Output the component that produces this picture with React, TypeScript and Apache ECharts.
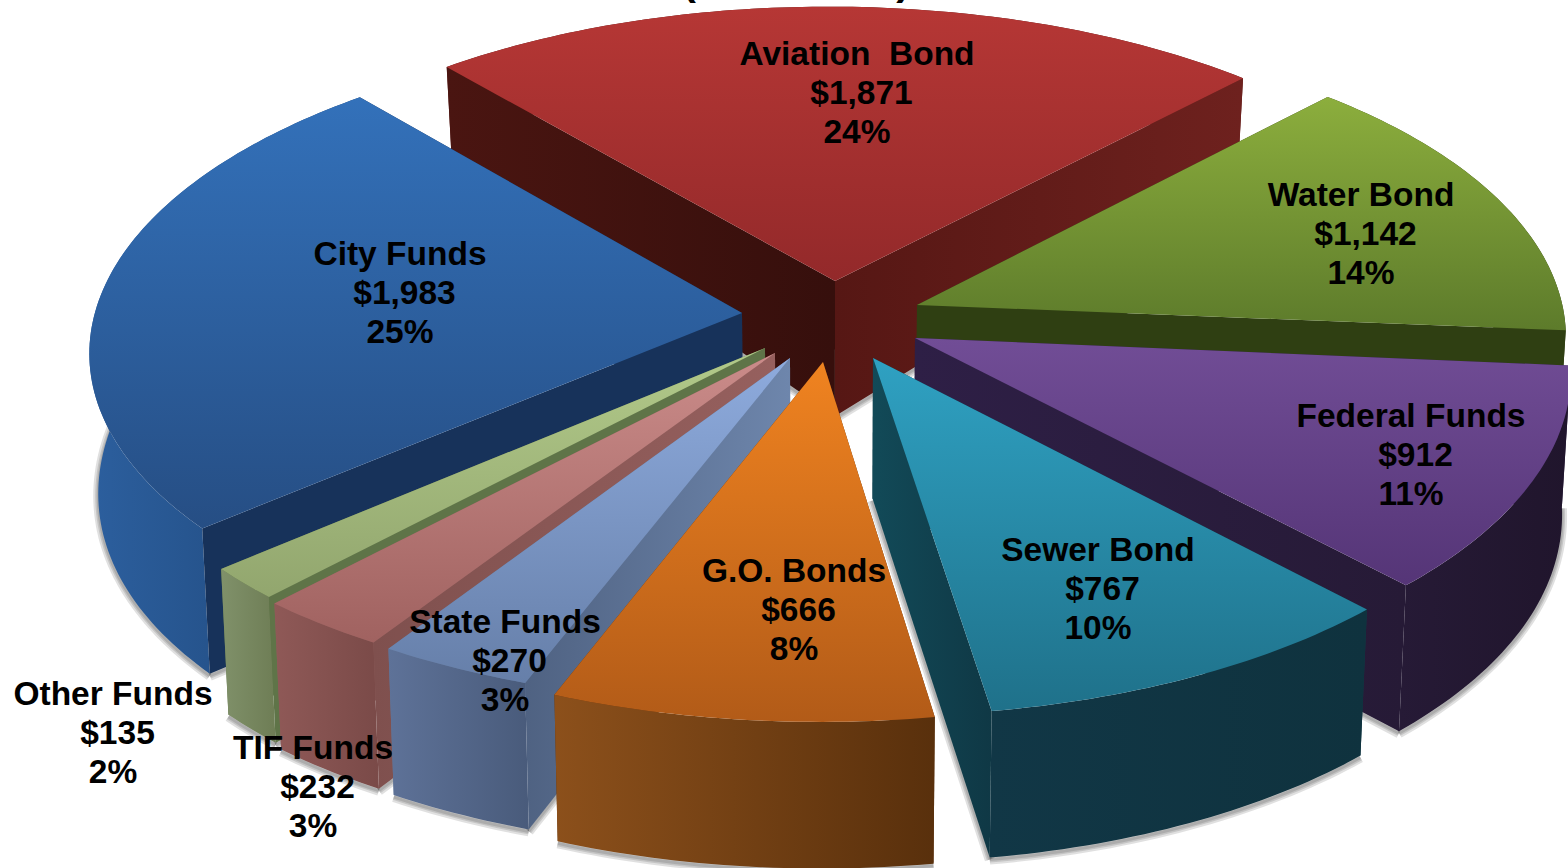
import React, { useEffect, useRef } from "react";
import * as echarts from "echarts";

// ---- data ----
const categories = ["Aviation  Bond", "Water Bond", "Federal Funds", "Sewer Bond", "G.O. Bonds", "State Funds", "TIF Funds", "Other Funds", "City Funds"];
const values = [1871, 1142, 912, 767, 666, 270, 232, 135, 1983];
const percentLabels = ["24%", "14%", "11%", "10%", "8%", "3%", "3%", "2%", "25%"];
const titleText = "(in Millions)";

// ---- projection / layout (not data) ----
const W = 1568, H = 868;
const CX = 830, CY = 330;
const START_ANGLE = -41;
const PERSPECTIVE = 0.11;
const explode = [[5, -49], [87, -25], [85, 8], [43, 28], [-7, 32], [-40, 28], [-55, 23], [-65, 18], [-88, -17]];
const radiusX = [641, 645, 652, 656, 661, 670, 670, 664, 647];
const radiusY = [304.5, 308, 316, 318.4, 320.3, 308, 304, 312.5, 309];
const shearX = [0, 0, 0, 0, 7, 0, 0, 0, 14];
const shearY = [3, -1.5, 0, 3, 2.5, -10, -14, -3, 0.6];
const drawOrder = [0, 1, 2, 8, 7, 6, 5, 3, 4];
const labelAnchor = [[857, 53], [1361, 194], [1411, 415], [1098, 549], [794, 570], [505, 621], [313, 747], [113, 693], [400, 253]];

// ---- colours ----
const topColors = [["#b63735", "#93292a"], ["#8cae3d", "#5d7b2b"], ["#714d96", "#553577"], ["#2fa1c2", "#1f718a"], ["#f08320", "#b25b18"], ["#8eabdd", "#667fa9"], ["#cb8c8a", "#a06260"], ["#b2ca8a", "#92a66e"], ["#3371ba", "#264e84"]];
const outerColors = [["#5a1815", "#5a1815"], ["#2f3f12", "#2f3f12"], ["#261a36", "#20152c"], ["#113746", "#0f323e"], ["#8c501b", "#59300c"], ["#5e7298", "#495b7b"], ["#8f5957", "#7a4a48"], ["#80916a", "#6e7d55"], ["#2c5f9e", "#1e4576"]];
const startWall = [["#4a1511", "#360f0c"], ["#2f3f12", "#2f3f12"], ["#2a1c40", "#2a1c40"], ["#0f3a45", "#0f3a45"], ["#5a2f0c", "#5a2f0c"], ["#4f6282", "#6e86ac"], ["#7f504e", "#96605e"], ["#5f7448", "#5f7448"], ["#17325a", "#17325a"]];
const endWall = [["#561714", "#6e211e"], ["#2f3f12", "#2f3f12"], ["#2e1f46", "#261a36"], ["#124a58", "#0f3845"], ["#5a2f0c", "#5a2f0c"], ["#627799", "#627799"], ["#8d5c5a", "#8d5c5a"], ["#5f7448", "#5f7448"], ["#17325a", "#17325a"]];
const shadowWidths = [10, 6, 3];

const total = values.reduce((a, b) => a + b, 0);
const rad = (d: number) => (d * Math.PI) / 180;

function sliceAngles(i: number): [number, number] {
  let a = START_ANGLE;
  for (let k = 0; k < i; k++) a += (values[k] / total) * 360;
  return [a, a + (values[i] / total) * 360];
}
function project(i: number, deg: number): number[] {
  const s = Math.sin(rad(deg)), c = Math.cos(rad(deg));
  const p = 1 / (1 + PERSPECTIVE * c);
  return [
    CX + explode[i][0] + (radiusX[i] * s + shearX[i] * c) * p,
    CY + explode[i][1] + (-radiusY[i] * c + shearY[i] * s) * p,
  ];
}
function drop(pt: number[]): number[] {
  const t = 147 - 60 * Math.exp(-(pt[1] - 70) / 130);
  return [pt[0] + (CX - pt[0]) * 0.012, pt[1] + t];
}

function renderSlice(_params: any, api: any) {
  const i = api.value(0) as number;
  const [a0, a1] = sliceAngles(i);
  const apex = [CX + explode[i][0], CY + explode[i][1]];
  const arc: number[][] = [];
  const n = Math.max(4, Math.ceil(a1 - a0));
  for (let k = 0; k <= n; k++) arc.push(project(i, a0 + ((a1 - a0) * k) / n));
  const arcLow = arc.map(drop);
  const apexLow = drop(apex);
  const first = arc[0], last = arc[arc.length - 1];
  const poly = (points: number[][], fill: any) => ({ type: "polygon", shape: { points }, style: { fill, stroke: null } });
  const grad = (x2: number, y2: number, c: string[]) => new echarts.graphic.LinearGradient(0, 0, x2, y2, [{ offset: 0, color: c[0] }, { offset: 1, color: c[1] }]);
  const softEdge = (points: number[][]) => shadowWidths.map((w) => ({
    type: "polyline", y: 2, shape: { points },
    style: { fill: "none", stroke: "rgba(0,0,0,0.12)", lineWidth: w, lineJoin: "round", lineCap: "butt" },
  }));
  const startPts = [apex, first, arcLow[0], apexLow];
  const endPts = [apex, last, arcLow[arcLow.length - 1], apexLow];
  const outerPts = [...arc, ...arcLow.slice().reverse()];
  const startVisible = Math.sin(rad(a0)) < 0;
  const endVisible = Math.sin(rad(a1)) > 0;
  const children: any[] = [];
  children.push(...softEdge(arcLow));
  if (startVisible) children.push(...softEdge([arcLow[0], apexLow]));
  if (endVisible) children.push(...softEdge([arcLow[arcLow.length - 1], apexLow]));
  if (!startVisible) children.push(poly(startPts, grad(1, 0, startWall[i])));
  if (!endVisible) children.push(poly(endPts, grad(1, 0, endWall[i])));
  children.push(poly(outerPts, grad(1, 0, outerColors[i])));
  if (startVisible) children.push(poly(startPts, grad(1, 0, startWall[i])));
  if (endVisible) children.push(poly(endPts, grad(1, 0, endWall[i])));
  children.push(poly([apex, ...arc], grad(0, 1, topColors[i])));
  return { type: "group", children };
}

function labelElements() {
  const font = { fontFamily: "'Liberation Sans', Arial, sans-serif", fontWeight: "bold", fontSize: 33.5, fill: "#000" };
  const out: any[] = [];
  categories.forEach((name, i) => {
    const [x, y] = labelAnchor[i];
    const lines = [name, "$" + values[i].toLocaleString("en-US"), percentLabels[i]];
    lines.forEach((text, l) => {
      out.push({
        type: "text", z: 100, x: x + (l === 1 ? 4.5 : 0), y: y + l * 39.3,
        style: { ...font, text, align: "center", verticalAlign: "middle" },
      });
    });
  });
  out.push({
    type: "text", z: 100, x: 796, y: -19,
    style: { ...font, fontSize: 41, text: titleText, align: "center", verticalAlign: "middle" },
  });
  return out;
}

export default function App() {
  const ref = useRef<HTMLDivElement>(null);
  useEffect(() => {
    const chart = echarts.init(ref.current!, undefined, { renderer: "svg" });
    chart.setOption({
      animation: false,
      backgroundColor: "#ffffff",
      series: [{ type: "custom", coordinateSystem: "none", silent: true, renderItem: renderSlice, data: drawOrder.map((d) => [d]) }],
      graphic: { elements: labelElements() },
    });
    return () => chart.dispose();
  }, []);
  return <div ref={ref} style={{ position: "fixed", left: 0, top: 0, width: W, height: H }} />;
}
